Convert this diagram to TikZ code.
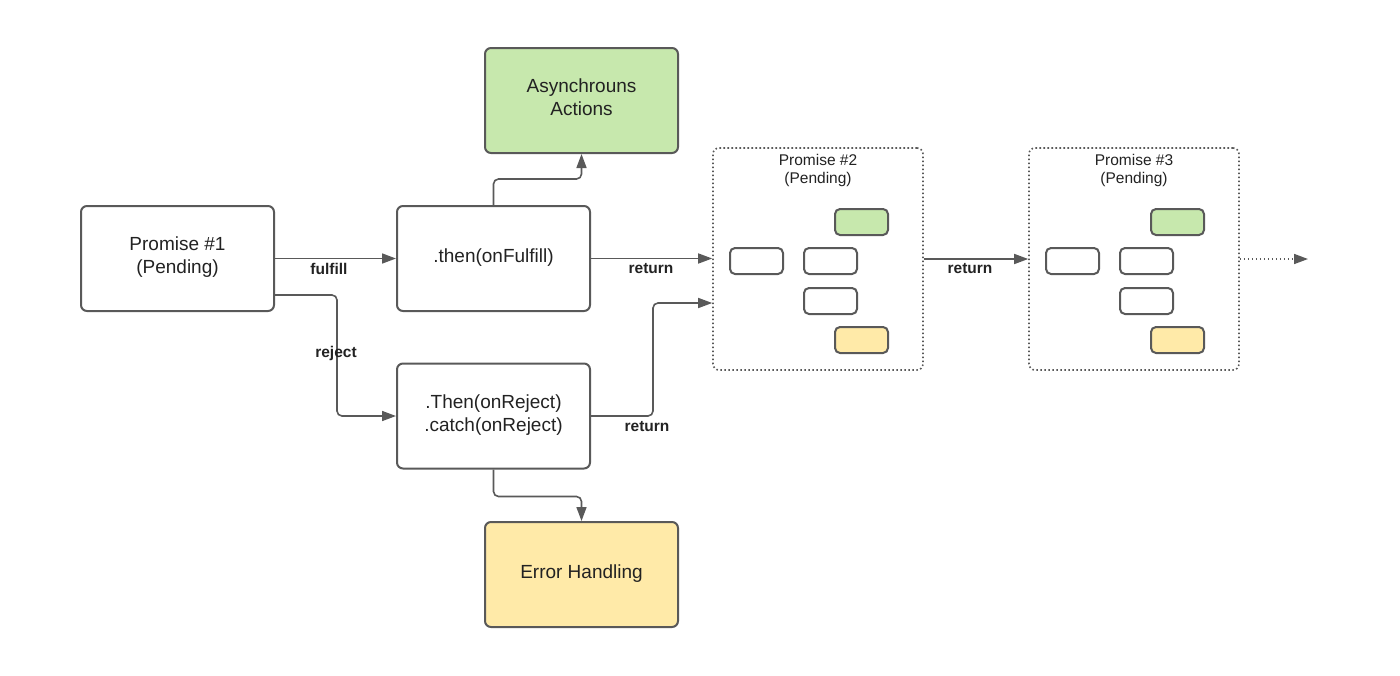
\documentclass[tikz,border=0pt]{standalone}
\usepackage{fontspec}
\setmainfont{Liberation Sans}
\usetikzlibrary{arrows.meta,positioning,calc}
\definecolor{strokegray}{HTML}{595959}
\definecolor{boxgreen}{HTML}{C7E8AD}
\definecolor{boxyellow}{HTML}{FFEAA8}
\definecolor{txt}{HTML}{222222}
\tikzset{
  bigbox/.style={draw=strokegray, line width=2pt, rounded corners=6pt, minimum width=193pt, minimum height=105pt, inner sep=0pt},
  boxtext/.style={align=center, text=txt, font=\fontsize{19}{23.5}\selectfont, inner sep=0pt},
  groupbox/.style={draw=strokegray, line width=1.6pt, dash pattern=on 1.6pt off 2.4pt, rounded corners=6pt, minimum width=210pt, minimum height=222pt, inner sep=0pt},
  smallbox/.style={draw=strokegray, line width=2pt, rounded corners=5pt, minimum width=53pt, minimum height=26pt, inner sep=0pt, fill=white},
  conn/.style={draw=strokegray, line width=1.6pt, rounded corners=5pt, -{Triangle[length=14pt,width=10pt]}},
  lbl/.style={font=\fontsize{15.5}{17}\selectfont\bfseries, text=txt, inner sep=0pt},
  ttl/.style={font=\fontsize{15.5}{18}\selectfont, text=txt, align=center, inner sep=0pt},
}
\begin{document}
\begin{tikzpicture}[x=1pt,y=-1pt]
\useasboundingbox (0,0) rectangle (1400,675);
% main boxes
\node[bigbox] (p1) at (177.5,258.5) {};
\node[boxtext] (p1t) at (177.5,257) {Promise \#1\\(Pending)};
\node[bigbox] (then) at (493.5,258.5) {};
\node[boxtext] (thent) at (493.5,258) {.then(onFulfill)};
\node[bigbox] (catch) at (493.5,416) {};
\node[boxtext] (catcht) at (493.5,415) {.Then(onReject)\\.catch(onReject)};
\node[bigbox, fill=boxgreen] (async) at (581.5,100.5) {};
\node[boxtext] (asynct) at (581.5,97) {Asynchrouns\\Actions};
\node[bigbox, fill=boxyellow] (err) at (581.5,574.5) {};
\node[boxtext] (errt) at (581.5,574) {Error Handling};
% promise groups
\node[groupbox] (p2) at (818,259) {};
\node[groupbox] (p3) at (1134,259) {};
\node[ttl] (p2t) at (818,170.5) {Promise \#2\\(Pending)};
\node[ttl] (p3t) at (1134,170.5) {Promise \#3\\(Pending)};
% inner boxes p2
\node[smallbox, fill=boxgreen] (p2g) at (861.5,222) {};
\node[smallbox] (p2a) at (756.5,261) {};
\node[smallbox] (p2b) at (830.5,261) {};
\node[smallbox] (p2c) at (830.5,301) {};
\node[smallbox, fill=boxyellow] (p2y) at (861.5,340) {};
% inner boxes p3
\node[smallbox, fill=boxgreen] (p3g) at (1177.5,222) {};
\node[smallbox] (p3a) at (1072.5,261) {};
\node[smallbox] (p3b) at (1146.5,261) {};
\node[smallbox] (p3c) at (1146.5,301) {};
\node[smallbox, fill=boxyellow] (p3y) at (1177.5,340) {};
% connectors
\draw[conn] (p1.east) -- (then.west);
\draw[conn] ([yshift=17pt]p1.south east) -- ++(62,0) |- (catch.west);
\draw[conn] (then.east) -- (then.east -| p2.west);
\coordinate (p2in) at ([yshift=-44pt]p2.west);
\draw[conn] (catch.east) -- ++(62,0) |- (p2in);
\draw[conn] (then.north) -- ++(0,-26) -| (async.south);
\draw[conn] (catch.south) -- ++(0,27) -| (err.north);
\draw[conn] (p2.east) -- (p3.west);
\coordinate (endpt) at (1308,259);
\draw[conn, dash pattern=on 1.5pt off 2.5pt] (p3.east) -- (endpt);
% labels
\node[lbl] (lf) at (329,269) {fulfill};
\node[lbl] (lr) at (336,353) {reject};
\node[lbl] (lr1) at (651,269) {return};
\node[lbl] (lr2) at (647,427) {return};
\node[lbl] (lr3) at (970,269) {return};
\end{tikzpicture}
\end{document}
